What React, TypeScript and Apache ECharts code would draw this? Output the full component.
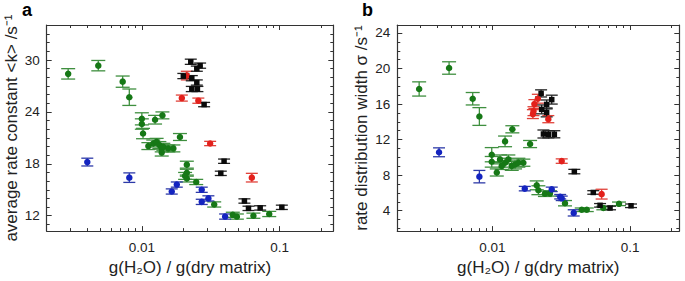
import React, { useEffect, useRef } from "react";
import * as echarts from "echarts";

// [g(H2O)/g(dry matrix), value, y-error]
type P = [number, number, number];

// Panel a: average rate constant <k> /s^-1
const aGreen: P[] = [
  [0.00292, 28.4, 0.6], [0.00483, 29.35, 0.6], [0.00726, 27.5, 0.65], [0.00811, 25.7, 0.95],
  [0.0100, 23.2, 0.7], [0.0100, 22.6, 0.6], [0.0102, 21.5, 0.6], [0.01247, 23.1, 0.5],
  [0.0141, 23.6, 0.4], [0.0189, 21.1, 0.4], [0.01115, 20.05, 0.4], [0.0121, 20.35, 0.4],
  [0.0128, 20.54, 0.4], [0.0134, 20.17, 0.4], [0.01394, 19.78, 0.4], [0.01432, 19.97, 0.4],
  [0.01557, 19.78, 0.4], [0.01693, 19.78, 0.4], [0.01394, 19.3, 0.4], [0.0212, 17.9, 0.4],
  [0.0212, 16.97, 0.4], [0.0206, 16.6, 0.4], [0.0212, 16.3, 0.4], [0.0248, 15.9, 0.3],
  [0.0335, 13.3, 0.3], [0.0457, 12.1, 0.3], [0.0489, 11.9, 0.3], [0.0645, 12.0, 0.3],
  [0.084, 12.2, 0.3],
];
const aBlue: P[] = [
  [0.00402, 18.2, 0.45], [0.00811, 16.4, 0.55], [0.01648, 14.8, 0.3], [0.01793, 15.6, 0.3],
  [0.0272, 15.0, 0.3], [0.0272, 13.6, 0.3], [0.0304, 14.0, 0.3], [0.0402, 11.9, 0.3],
];
const aRed: P[] = [
  [0.0212, 28.2, 0.5], [0.0195, 25.6, 0.35], [0.0257, 25.3, 0.3], [0.0313, 20.35, 0.25],
  [0.0628, 16.4, 0.5],
];
const aBlack: P[] = [
  [0.02265, 29.8, 0.3], [0.02647, 29.35, 0.3], [0.02505, 29.0, 0.3], [0.0200, 28.15, 0.3],
  [0.02304, 27.9, 0.3], [0.02505, 27.4, 0.3], [0.02304, 26.65, 0.3], [0.0253, 26.65, 0.3],
  [0.0283, 24.85, 0.25], [0.0395, 18.3, 0.25], [0.0374, 16.9, 0.25], [0.0555, 13.7, 0.25],
  [0.0594, 12.85, 0.25], [0.0722, 12.9, 0.25], [0.1037, 12.97, 0.25],
];

// Panel b: rate distribution width sigma /s^-1
const bGreen: P[] = [
  [0.00294, 17.7, 0.8], [0.00485, 20.06, 0.7], [0.0072, 16.6, 0.7], [0.00805, 14.6, 1.0],
  [0.0099, 10.3, 0.8], [0.0099, 9.5, 0.6], [0.01237, 11.8, 0.6], [0.01397, 13.16, 0.4],
  [0.0188, 11.5, 0.4], [0.01077, 8.3, 0.4], [0.01137, 9.77, 0.5], [0.01237, 9.4, 0.5],
  [0.01307, 9.77, 0.5], [0.01383, 9.04, 0.5], [0.01462, 9.2, 0.5], [0.01545, 9.4, 0.5],
  [0.0168, 9.4, 0.4], [0.0117, 9.04, 0.4], [0.021, 6.85, 0.5], [0.0216, 6.3, 0.5],
  [0.0262, 5.94, 0.3], [0.0241, 5.9, 0.3], [0.0337, 4.84, 0.3], [0.0446, 4.1, 0.2],
  [0.0485, 4.1, 0.2], [0.064, 4.3, 0.2], [0.0832, 4.77, 0.2],
];
const bBlue: P[] = [
  [0.0041, 10.57, 0.5], [0.00805, 7.83, 0.7], [0.0172, 6.48, 0.25], [0.027, 6.4, 0.25],
  [0.0311, 5.57, 0.25], [0.0319, 5.39, 0.25], [0.039, 3.75, 0.35],
];
const bRed: P[] = [
  [0.0214, 16.6, 0.5], [0.0202, 16.0, 0.5], [0.0199, 15.2, 0.5], [0.0197, 14.87, 0.5],
  [0.0255, 14.3, 0.4], [0.0319, 9.58, 0.25], [0.0622, 5.86, 0.55],
];
const bBlack: P[] = [
  [0.0226, 17.2, 0.4], [0.027, 16.5, 0.5], [0.0248, 15.96, 0.5], [0.0228, 15.4, 0.5],
  [0.0248, 15.06, 0.5], [0.0235, 12.63, 0.45], [0.0255, 12.6, 0.4], [0.0282, 12.6, 0.4],
  [0.0394, 8.4, 0.25], [0.0541, 6.05, 0.2], [0.0606, 4.6, 0.2], [0.0716, 4.3, 0.2],
  [0.1017, 4.55, 0.2],
];

// Ticks
const xMajor = [0.01, 0.1];
const xMajorLabels = ["0.01", "0.1"];
const xMinor = [0.003, 0.004, 0.005, 0.006, 0.007, 0.008, 0.009, 0.02, 0.03, 0.04, 0.05, 0.06, 0.07, 0.08, 0.09, 0.2];
const aYMajor = [12, 18, 24, 30];
const aYMinor = [11, 13, 14, 15, 16, 17, 19, 20, 21, 22, 23, 25, 26, 27, 28, 29, 31, 32, 33, 34];
const bYMajor = [4, 8, 12, 16, 20, 24];
const bYMinor = [2, 3, 5, 6, 7, 9, 10, 11, 13, 14, 15, 17, 18, 19, 21, 22, 23, 25];

const xMin = 0.00204;
const aXMax = 0.245;
const bXMax = 0.228;
const aYMin = 10.22, aYMax = 34.05;
const bYMin = 1.7, bYMax = 24.9;

const FONT = "Liberation Sans, Arial, sans-serif";
const AX = "#333";
const TXT = "#222";

const GREEN = "#167816";
const GREEN_BAR = "#3f8f3f";
const BLUE = "#1424c0";
const BLUE_BAR = "#2d3aa8";
const RED = "#e3211c";
const RED_BAR = "#e0423a";
const BLACK = "#0a0a0a";
const BLACK_BAR = "#222";

function xAxesFor(gridIndex: number, max: number) {
  const base: any = {
    type: "log", logBase: 10, gridIndex, min: xMin, max,
    splitLine: { show: false }, minorSplitLine: { show: false },
  };
  const line = { show: true, lineStyle: { color: AX, width: 1.2 } };
  return [
    {
      ...base, position: "bottom", axisLine: line,
      axisTick: { show: true, inside: true, length: 5, customValues: xMajor, lineStyle: { color: AX, width: 1 } },
      axisLabel: {
        show: true, customValues: xMajor, margin: 9, color: TXT, fontSize: 13.5, fontFamily: FONT,
        formatter: (v: number) => {
          const i = xMajor.findIndex((m) => Math.abs(Math.log10(m) - Math.log10(v)) < 1e-6);
          return i >= 0 ? xMajorLabels[i] : "";
        },
      },
      name: "g(H₂O) / g(dry matrix)", nameLocation: "middle", nameGap: 25,
      nameTextStyle: { color: TXT, fontSize: 17, fontFamily: FONT },
    },
    {
      ...base, position: "bottom", axisLine: { show: false },
      axisTick: { show: true, inside: true, length: 3, customValues: xMinor, lineStyle: { color: AX, width: 1 } },
      axisLabel: { show: false },
    },
    {
      ...base, position: "top", axisLine: line,
      axisTick: { show: true, inside: true, length: 5, customValues: xMajor, lineStyle: { color: AX, width: 1 } },
      axisLabel: { show: false },
    },
    {
      ...base, position: "top", axisLine: { show: false },
      axisTick: { show: true, inside: true, length: 3, customValues: xMinor, lineStyle: { color: AX, width: 1 } },
      axisLabel: { show: false },
    },
  ];
}

function yAxesFor(gridIndex: number, min: number, max: number, major: number[], minor: number[], name: string, gap: number) {
  const base: any = { type: "value", gridIndex, min, max, splitLine: { show: false } };
  const line = { show: true, lineStyle: { color: AX, width: 1.2 } };
  return [
    {
      ...base, position: "left", axisLine: line,
      axisTick: { show: true, inside: true, length: 5, customValues: major, lineStyle: { color: AX, width: 1 } },
      axisLabel: { show: true, customValues: major, margin: 7, color: TXT, fontSize: 13.5, fontFamily: FONT },
      name, nameLocation: "middle", nameGap: gap,
      nameTextStyle: { color: TXT, fontSize: 17, fontFamily: FONT },
    },
    {
      ...base, position: "left", axisLine: { show: false },
      axisTick: { show: true, inside: true, length: 3, customValues: minor, lineStyle: { color: AX, width: 1 } },
      axisLabel: { show: false },
    },
    {
      ...base, position: "right", axisLine: line,
      axisTick: { show: true, inside: true, length: 5, customValues: major, lineStyle: { color: AX, width: 1 } },
      axisLabel: { show: false },
    },
    {
      ...base, position: "right", axisLine: { show: false },
      axisTick: { show: true, inside: true, length: 3, customValues: minor, lineStyle: { color: AX, width: 1 } },
      axisLabel: { show: false },
    },
  ];
}

function errSeries(data: P[], color: string, axisIndex: number, capW: number) {
  return {
    type: "custom",
    xAxisIndex: axisIndex, yAxisIndex: axisIndex,
    silent: true, z: 2,
    data: data.map((d) => [d[0], d[1] - d[2], d[1] + d[2]]),
    encode: { x: 0, y: [1, 2] },
    renderItem: (_p: any, api: any) => {
      const x = api.value(0);
      const lo = api.coord([x, api.value(1)]);
      const hi = api.coord([x, api.value(2)]);
      const hw = capW / 2;
      const style = { stroke: color, lineWidth: 1.3 };
      return {
        type: "group",
        children: [
          { type: "line", shape: { x1: lo[0], y1: lo[1], x2: hi[0], y2: hi[1] }, style },
          { type: "line", shape: { x1: lo[0] - hw, y1: lo[1], x2: lo[0] + hw, y2: lo[1] }, style },
          { type: "line", shape: { x1: hi[0] - hw, y1: hi[1], x2: hi[0] + hw, y2: hi[1] }, style },
        ],
      };
    },
  };
}

function dotSeries(data: P[], color: string, axisIndex: number, symbol: string, size: number) {
  return {
    type: "scatter",
    xAxisIndex: axisIndex, yAxisIndex: axisIndex,
    symbol, symbolSize: size, z: 3, silent: true,
    itemStyle: { color, opacity: 1 },
    data: data.map((d) => [d[0], d[1]]),
  };
}

export default function App() {
  const ref = useRef<HTMLDivElement>(null);
  useEffect(() => {
    document.body.style.margin = "0";
    const chart = echarts.init(ref.current!, null, { renderer: "svg" });
    const option: any = {
      animation: false,
      backgroundColor: "#fff",
      grid: [
        { left: 46.7, right: 351.7, top: 25, bottom: 44.3 },
        { left: 397.3, right: 5.7, top: 25, bottom: 44.3 },
      ],
      xAxis: [...xAxesFor(0, aXMax), ...xAxesFor(1, bXMax)],
      yAxis: [
        ...yAxesFor(0, aYMin, aYMax, aYMajor, aYMinor, "average rate constant <k> /s⁻¹", 27),
        ...yAxesFor(1, bYMin, bYMax, bYMajor, bYMinor, "rate distribution width σ /s⁻¹", 27),
      ],
      graphic: [
        { type: "text", left: 22, top: 1, style: { text: "a", font: `bold 18px ${FONT}`, fill: "#000" } },
        { type: "text", left: 362, top: 1, style: { text: "b", font: `bold 18px ${FONT}`, fill: "#000" } },
      ],
      series: [
        errSeries(aGreen, GREEN_BAR, 0, 14),
        errSeries(aBlue, BLUE_BAR, 0, 12),
        errSeries(aRed, RED_BAR, 0, 12),
        errSeries(aBlack, BLACK_BAR, 0, 12),
        dotSeries(aGreen, GREEN, 0, "circle", 6.5),
        dotSeries(aBlue, BLUE, 0, "circle", 6.5),
        dotSeries(aRed, RED, 0, "circle", 6.5),
        dotSeries(aBlack, BLACK, 0, "rect", 5.5),
        errSeries(bGreen, GREEN_BAR, 4, 14),
        errSeries(bBlue, BLUE_BAR, 4, 12),
        errSeries(bRed, RED_BAR, 4, 12),
        errSeries(bBlack, BLACK_BAR, 4, 12),
        dotSeries(bGreen, GREEN, 4, "circle", 6.5),
        dotSeries(bBlue, BLUE, 4, "circle", 6.5),
        dotSeries(bRed, RED, 4, "circle", 6.5),
        dotSeries(bBlack, BLACK, 4, "rect", 5.5),
      ],
    };
    chart.setOption(option);
    return () => chart.dispose();
  }, []);
  return <div ref={ref} style={{ width: 685, height: 281 }} />;
}
